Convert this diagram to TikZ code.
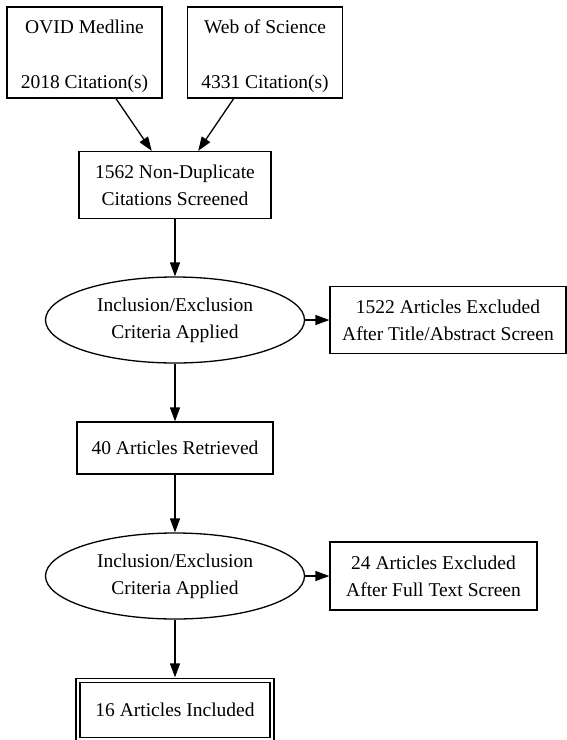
\documentclass[tikz,border=0pt]{standalone}
\usepackage{fontspec}
\setmainfont{Liberation Serif}
\usepackage{tikz}
\usetikzlibrary{arrows.meta,positioning,shapes.geometric}

\begin{document}
\begin{tikzpicture}[
  x=1pt, y=-1pt,
  every node/.style={font=\fontsize{19.5}{27}\selectfont, align=center, inner sep=0pt},
  srcbox/.style={draw, line width=1.3pt, minimum width=155pt, minimum height=91pt},
  box/.style={draw, line width=1.3pt, minimum height=67pt},
  crit/.style={draw, ellipse, line width=1.3pt, minimum width=259pt, minimum height=86pt},
  incl/.style={draw, line width=1.3pt, double, double distance=2.7pt,
               minimum width=194pt, minimum height=59pt},
  arr/.style={-{Triangle[length=14pt,width=10pt]}, line width=1.3pt}
]
\useasboundingbox (0,0) rectangle (567,740);
\node[srcbox] (ovid)   at (84.5,52.5) {\mbox{}\\[-6pt]OVID Medline\\[28pt]2018 Citation(s)};
\node[srcbox] (wos)    at (265,52.5)  {\mbox{}\\[-6pt]Web of Science\\[28pt]4331 Citation(s)};
\node[box, minimum width=192pt] (nondup) at (175,185) {1562 Non-Duplicate\\Citations Screened};
\node[crit]   (crit1)  at (175,320)   {Inclusion/Exclusion\\Criteria Applied};
\node[box, minimum width=236pt] (excl1) at (448,320) {1522 Articles Excluded\\After Title/Abstract Screen};
\node[box, minimum width=196pt, minimum height=52pt] (retr) at (175,448) {40 Articles Retrieved};
\node[crit]   (crit2)  at (175,576)   {Inclusion/Exclusion\\Criteria Applied};
\node[box, minimum width=207pt, minimum height=68pt] (excl2) at (433.5,576) {24 Articles Excluded\\After Full Text Screen};
\node[incl]   (final)  at (175,710)   {16 Articles Included};
\draw[arr] (ovid)   -- (nondup);
\draw[arr] (wos)    -- (nondup);
\draw[arr] (nondup) -- (crit1);
\draw[arr] (crit1)  -- (excl1);
\draw[arr] (crit1)  -- (retr);
\draw[arr] (retr)   -- (crit2);
\draw[arr] (crit2)  -- (excl2);
\draw[arr, shorten >=2.5pt] (crit2) -- (final);
\end{tikzpicture}
\end{document}
